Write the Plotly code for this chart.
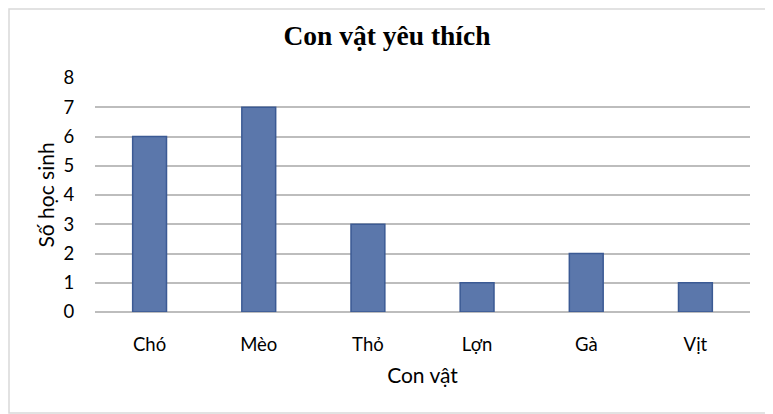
import plotly.graph_objects as go

animals = ["Chó", "Mèo", "Thỏ", "Lợn", "Gà", "Vịt"]
students = [6, 7, 3, 1, 2, 1]
y_ticks = [0, 1, 2, 3, 4, 5, 6, 7, 8]

fig = go.Figure()
fig.add_trace(go.Bar(
    x=animals,
    y=students,
    marker=dict(color="#5b77ab", line=dict(color="#3b5a94", width=1.5)),
))

# page body has an 8px margin, so the figure is a bit smaller than the window
fig.update_layout(
    width=765,
    height=406,
    paper_bgcolor="white",
    plot_bgcolor="white",
    margin=dict(l=87, r=23, t=70, b=102),
    bargap=0.69,
    showlegend=False,
    title=dict(
        text="<b>Con vật yêu thích</b>",
        x=0.4954, xanchor="center", y=0.933, yanchor="middle",
        font=dict(family="Liberation Serif", size=27.5, color="black"),
    ),
    font=dict(family="Lato", size=18.5, color="black"),
)
fig.update_xaxes(
    title=dict(text="Con vật", font=dict(size=21), standoff=14),
    showgrid=False, showline=False,
    ticks="outside", ticklen=16, tickcolor="rgba(0,0,0,0)",
)
fig.update_yaxes(
    title=dict(text="Số học sinh", font=dict(size=21), standoff=3),
    range=[0, 8], tickvals=y_ticks,
    showgrid=True, gridcolor="#bdbdbd", gridwidth=2,
    zeroline=True, zerolinecolor="#bdbdbd", zerolinewidth=2,
    showline=False, ticks="outside", ticklen=16, tickcolor="rgba(0,0,0,0)",
)
fig.add_shape(type="rect", xref="paper", yref="paper",
              x0=-86 / 655, x1=1 + 22 / 655, y0=-101 / 234, y1=1 + 69 / 234,
              line=dict(color="#d9d9d9", width=1.5))

fig.write_html("out.html")
